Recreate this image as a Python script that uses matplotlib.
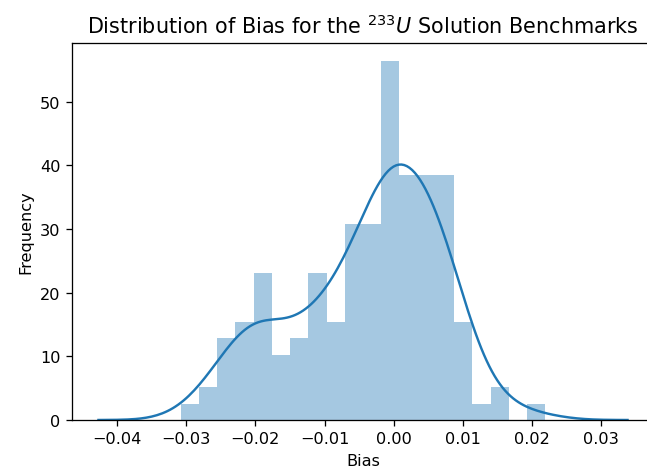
import numpy as np
import matplotlib
matplotlib.use("Agg")
import matplotlib.pyplot as plt
import seaborn as sns

# histogram: 20 equal bins between the data extremes
bin_lo = -0.0308
bin_hi = 0.0219
counts = [1, 2, 5, 6, 9, 4, 5, 9, 6, 12, 12, 22, 15, 15, 15, 6, 1, 2, 0, 1]

edges = np.linspace(bin_lo, bin_hi, len(counts) + 1)
centers = (edges[:-1] + edges[1:]) / 2
bias = np.repeat(centers, counts)

dpi = 116
fig = plt.figure(figsize=(647 / dpi, 472 / dpi), dpi=dpi)
ax = fig.add_axes([72 / 647, 51 / 472, 582 / 647, 377 / 472])

ax.hist(bias, bins=edges, density=True, color="C0", alpha=0.4)
sns.kdeplot(x=bias, ax=ax, color="C0", lw=1.5, cut=3.3, bw_adjust=1.04)

ax.set_title("Distribution of Bias for the $^{233}U$ Solution Benchmarks",
             fontsize=12.85)
ax.set_xlabel("Bias")
ax.set_ylabel("Frequency")

fig.savefig("out.png", dpi=dpi)
